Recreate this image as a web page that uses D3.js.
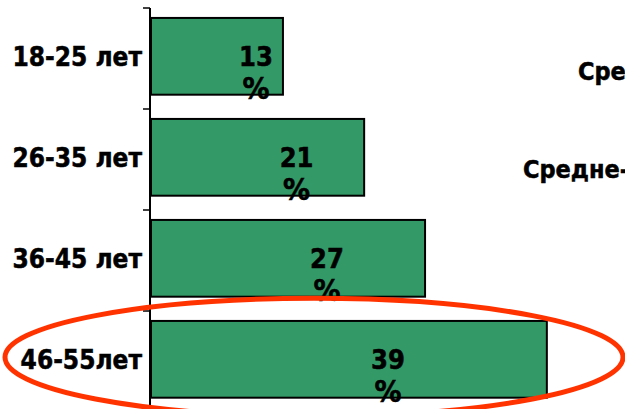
<!DOCTYPE html>
<html>
<head>
<meta charset="utf-8">
<script src="https://cdn.jsdelivr.net/npm/d3@7"></script>
<style>
  body { margin: 0; background: #fff; }
  svg { display: block; }
  text { font-family: "DejaVu Sans Condensed", "DejaVu Sans", sans-serif; font-weight: bold; fill: #000; stroke: #000; stroke-width: 0.5px; }
</style>
</head>
<body>
<svg id="chart"></svg>
<script>
// data
let ageGroups = ['18-25 лет', '26-35 лет', '36-45 лет', '46-55лет'];
let shares = [13, 21, 27, 39];
let sideTexts = ['Средний возраст', 'Средне-специальное образование'];

let widthSVG = 625;
let heightSVG = 409;

let SVG = d3.select('svg#chart')
            .attr('width', widthSVG)
            .attr('height', heightSVG);

// scales
let x = d3.scaleLinear().domain([0, 50]).range([151, 151 + 507.5]);
let y = d3.scaleBand()
          .domain(ageGroups)
          .range([8, 412])
          .paddingInner(0.24)
          .paddingOuter(0.12)
          .align(0.41);

// step boundaries for the little ticks on the axis
let stepTop = 8;
let step = y.step();

// axis line
SVG.append('line')
   .attr('x1', x(0) - 1).attr('x2', x(0) - 1)
   .attr('y1', stepTop).attr('y2', heightSVG + 5)
   .style('stroke', 'black')
   .style('stroke-width', '2px');

SVG.selectAll('line.tick')
   .data(d3.range(ageGroups.length + 1))
   .enter()
   .append('line')
   .classed('tick', true)
   .attr('x1', x(0) - 8).attr('x2', x(0) - 1)
   .attr('y1', i => stepTop + i * step)
   .attr('y2', i => stepTop + i * step)
   .style('stroke', 'black')
   .style('stroke-width', '1.5px');

// bars
let barGroups = SVG.selectAll('g.barGroup')
                   .data(ageGroups.map((d, i) => ({ cat: d, val: shares[i] })))
                   .enter()
                   .append('g')
                   .classed('barGroup', true);

barGroups.append('rect')
         .attr('x', x(0))
         .attr('y', d => y(d.cat))
         .attr('width', d => x(d.val) - x(0))
         .attr('height', y.bandwidth())
         .style('fill', '#339966')
         .style('stroke', 'black')
         .style('stroke-width', '2px');

// value labels, number and percent sign on two lines
let labX = d => (x(0) + x(d.val)) / 2 + 39;
barGroups.append('text')
         .text(d => d.val)
         .attr('x', labX)
         .attr('y', d => y(d.cat) + y.bandwidth() / 2 + 10)
         .style('text-anchor', 'middle')
         .style('font-size', '27px');

barGroups.append('text')
         .text('%')
         .attr('x', labX)
         .attr('y', d => y(d.cat) + y.bandwidth() / 2 + 43)
         .style('text-anchor', 'middle')
         .style('font-size', '30px');

// category labels
barGroups.append('text')
         .text(d => d.cat)
         .attr('x', x(0) - 9)
         .attr('y', d => y(d.cat) + y.bandwidth() / 2 + 10)
         .style('text-anchor', 'end')
         .style('font-size', '26px');

// texts on the right, cut by the frame as in the source
SVG.selectAll('text.side')
   .data(sideTexts)
   .enter()
   .append('text')
   .classed('side', true)
   .text(d => d)
   .attr('x', (d, i) => i == 0 ? 578 : 523)
   .attr('y', (d, i) => i == 0 ? 80 : 178)
   .style('font-size', '25px');

// red ellipse round the last group
let last = ageGroups[ageGroups.length - 1];
SVG.append('ellipse')
   .attr('cx', 314)
   .attr('cy', y(last) + y.bandwidth() / 2 - 2)
   .attr('rx', 309)
   .attr('ry', 59)
   .style('fill', 'none')
   .style('stroke', '#ff3300')
   .style('stroke-width', '5px');
</script>
</body>
</html>
